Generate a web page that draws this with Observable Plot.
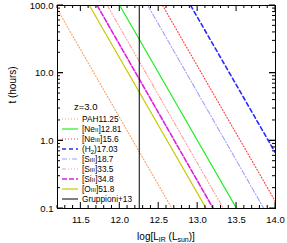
<!DOCTYPE html>
<html><head><meta charset="utf-8">
<script src="https://cdn.jsdelivr.net/npm/d3@7"></script>
<script src="https://cdn.jsdelivr.net/npm/@observablehq/plot@0.6"></script>
<style>body{margin:0;background:#fff}</style>
</head><body><div id="chart"></div>
<script>
const lineNames = ["PAH11.25","[NeII]12.81","[NeIII]15.6","(H2)17.03","[SIII]18.7","[SIII]33.5","[SiII]34.8","[OIII]51.8"];
const logLTop    = [11.17, 12.00, 12.55, 12.91, 12.36, 11.84, 11.71, 11.61]; // log L at t = 100 h
const logLBottom = [12.67, 13.50, 14.05, 14.41, 13.85, 13.33, 13.20, 13.11]; // log L at t = 0.1 h
const tEnds = [100, 0.1];
const gruppioniLogL = 12.25;
const xTicks = [11.5, 12.0, 12.5, 13.0, 13.5, 14.0];
const yTicks = [0.1, 1, 10, 100];
const redshiftLabel = "z=3.0";

const colors = ["#f7a060","#22ee22","#ff3a3a","#2a2aff","#a0a0ff","#ff9c9c","#e020e0","#c8c800"];
const dashes = ["1,2","none","1,2","4,3","5,2,1,2","4,2,1,2,1,2,1,2","5,2","none"];
const widths = [1.1,1.2,1.1,1.6,1.1,1.1,1.6,1.2];

const font = "'Liberation Sans', Arial, Helvetica, sans-serif";

const lineMarks = lineNames.map((n,i) => Plot.line(
  [{x: logLTop[i], t: tEnds[0]}, {x: logLBottom[i], t: tEnds[1]}],
  {x:"x", y:"t", stroke: colors[i], strokeWidth: widths[i], strokeDasharray: dashes[i], clip: true}
));

const chart = Plot.plot({
  width: 287, height: 243,
  marginLeft: 57, marginRight: 12, marginTop: 5, marginBottom: 35,
  style: {fontFamily: font, fontSize: "9.5px", color: "#000", background: "#fff"},
  x: {domain: [11.2, 14.0]},
  y: {type: "log", domain: [0.1, 100]},
  marks: [
    ...lineMarks,
    Plot.ruleX([gruppioniLogL], {stroke: "#000", strokeWidth: 1}),
    Plot.frame({stroke: "#000", strokeWidth: 1}),
    Plot.axisX({ticks: xTicks, tickSize: 0, tickPadding: 8, tickFormat: d3.format(".1f"), label: null}),
    Plot.axisY({ticks: yTicks, tickSize: 0, tickPadding: 4, tickFormat: d3.format(".1f"), label: null})
  ]
});
document.getElementById("chart").appendChild(chart);

const svg = d3.select(chart);
const sx = chart.scale("x"), sy = chart.scale("y");
const X0 = sx.apply(11.2), X1 = sx.apply(14.0), Y0 = sy.apply(0.1), Y1 = sy.apply(100);
const g = svg.append("g").attr("stroke", "#000").attr("stroke-width", 1);
// x ticks (inward, bottom and top)
d3.range(112, 141).map(v => v / 10).forEach(v => {
  const major = Math.abs(v * 2 - Math.round(v * 2)) < 1e-6;
  const L = major ? 6 : 3, xp = sx.apply(v);
  g.append("line").attr("x1", xp).attr("x2", xp).attr("y1", Y0).attr("y2", Y0 - L);
  g.append("line").attr("x1", xp).attr("x2", xp).attr("y1", Y1).attr("y2", Y1 + L);
});
// y ticks (log, inward, left and right)
[0.1, 1, 10].forEach(dec => {
  for (let k = 1; k <= 10; k++) {
    const v = dec * k; if (v > 100) continue;
    const L = (k === 1 || k === 10) ? 6 : 3, yp = sy.apply(v);
    g.append("line").attr("y1", yp).attr("y2", yp).attr("x1", X0).attr("x2", X0 + L);
    g.append("line").attr("y1", yp).attr("y2", yp).attr("x1", X1).attr("x2", X1 - L);
  }
});

// axis titles
const xl = svg.append("text").attr("x", (X0 + X1) / 2).attr("y", 240)
  .attr("text-anchor", "middle").style("font-family", font).style("font-size", "10px");
xl.append("tspan").text("log[L");
xl.append("tspan").attr("font-size", "7px").attr("dy", 2).text("IR");
xl.append("tspan").attr("dy", -2).text(" (L");
xl.append("tspan").attr("font-size", "7px").attr("dy", 2).text("sun");
xl.append("tspan").attr("dy", -2).text(")]");

svg.append("text").attr("transform", "translate(16,85) rotate(-90)")
  .attr("text-anchor", "middle").style("font-family", font).style("font-size", "10px").text("t (hours)");

// redshift label
svg.append("text").attr("x", 74).attr("y", 110).attr("text-anchor", "start")
  .style("font-family", font).style("font-size", "9.5px").text(redshiftLabel);

// legend
const leg = svg.append("g").attr("text-anchor", "start").style("font-family", font).style("font-size", "8.3px");
const legNames = [...lineNames, "Gruppioni+13"];
const legColors = [...colors, "#000"];
const legDashes = [...dashes, "none"];
const legWidths = [...widths, 1];
legNames.forEach((n, i) => {
  const yy = 119 + i * 10;
  leg.append("line").attr("x1", 62).attr("x2", 78).attr("y1", yy).attr("y2", yy)
    .attr("stroke", legColors[i]).attr("stroke-width", legWidths[i]).attr("stroke-dasharray", legDashes[i]);
  const t = leg.append("text").attr("x", 82).attr("y", yy + 3);
  if (n === "(H2)17.03") {
    t.append("tspan").text("(H");
    t.append("tspan").attr("font-size", "6px").attr("dy", 2).text("2");
    t.append("tspan").attr("dy", -2).text(")17.03");
  } else {
    const m = n.match(/^(\[[A-Z][a-z]?)(I+)(\].*)$/);
    if (m) {
      t.append("tspan").text(m[1]);
      t.append("tspan").attr("font-size", "6.2px").text(m[2]);
      t.append("tspan").text(m[3]);
    } else {
      t.text(n);
    }
  }
});
</script></body></html>
